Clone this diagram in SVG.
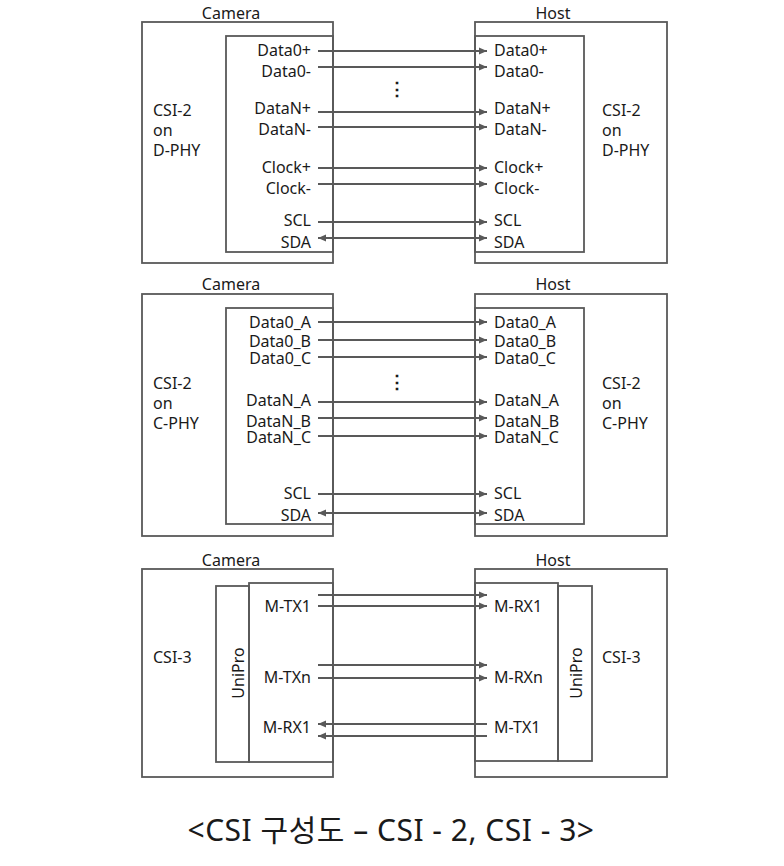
<svg xmlns="http://www.w3.org/2000/svg" width="784" height="866" viewBox="0 0 784 866">
<style>
.box{fill:none;stroke:#595959;stroke-width:1.8}
.ln{stroke:#595959;stroke-width:1.8;fill:none}
.tip{fill:#595959}
text{font-family:"Noto Sans","Noto Sans CJK KR",sans-serif;font-size:16px;fill:#1a1a1a}
.r{text-anchor:end}
.m{text-anchor:middle}
.cap{font-size:30px;text-anchor:middle;letter-spacing:0.5px}
</style>
<defs>
<marker id="ah" markerUnits="userSpaceOnUse" markerWidth="9" markerHeight="8" refX="8" refY="4" orient="auto">
<path d="M0,0.5 L8,4 L0,7.5 z" fill="#595959"/>
</marker>
</defs>
<rect width="784" height="866" fill="#fff"/>

<!-- Section 1: D-PHY -->
<g id="camera1">
<rect class="box" x="142" y="22" width="191" height="241"/>
<rect class="box" x="226" y="36" width="107" height="216"/>
<text class="m" x="231" y="19">Camera</text>
<text x="153" y="116">CSI-2</text>
<text x="153" y="136">on</text>
<text x="153" y="156">D-PHY</text>
<text class="r" x="311" y="56">Data0+</text>
<text class="r" x="311" y="77">Data0-</text>
<text class="r" x="311" y="114">DataN+</text>
<text class="r" x="311" y="135">DataN-</text>
<text class="r" x="311" y="173">Clock+</text>
<text class="r" x="311" y="194">Clock-</text>
<text class="r" x="311" y="226">SCL</text>
<text class="r" x="311" y="248">SDA</text>
</g>
<g id="host1">
<rect class="box" x="475" y="22" width="192" height="241"/>
<rect class="box" x="475" y="36" width="109" height="216"/>
<text class="m" x="553" y="19">Host</text>
<text x="602" y="116">CSI-2</text>
<text x="602" y="136">on</text>
<text x="602" y="156">D-PHY</text>
<text x="494" y="56">Data0+</text>
<text x="494" y="77">Data0-</text>
<text x="494" y="114">DataN+</text>
<text x="494" y="135">DataN-</text>
<text x="494" y="173">Clock+</text>
<text x="494" y="194">Clock-</text>
<text x="494" y="226">SCL</text>
<text x="494" y="248">SDA</text>
</g>

<!-- Section 2: C-PHY -->
<g id="camera2">
<rect class="box" x="142" y="294" width="191" height="242"/>
<rect class="box" x="226" y="308" width="107" height="216"/>
<text class="m" x="231" y="290">Camera</text>
<text x="153" y="389">CSI-2</text>
<text x="153" y="409">on</text>
<text x="153" y="429">C-PHY</text>
<text class="r" x="311" y="328">Data0_A</text>
<text class="r" x="311" y="347">Data0_B</text>
<text class="r" x="311" y="364">Data0_C</text>
<text class="r" x="311" y="406">DataN_A</text>
<text class="r" x="311" y="427">DataN_B</text>
<text class="r" x="311" y="443">DataN_C</text>
<text class="r" x="311" y="499">SCL</text>
<text class="r" x="311" y="521">SDA</text>
</g>
<g id="host2">
<rect class="box" x="475" y="294" width="192" height="242"/>
<rect class="box" x="475" y="308" width="109" height="216"/>
<text class="m" x="553" y="290">Host</text>
<text x="602" y="389">CSI-2</text>
<text x="602" y="409">on</text>
<text x="602" y="429">C-PHY</text>
<text x="494" y="328">Data0_A</text>
<text x="494" y="347">Data0_B</text>
<text x="494" y="364">Data0_C</text>
<text x="494" y="406">DataN_A</text>
<text x="494" y="427">DataN_B</text>
<text x="494" y="443">DataN_C</text>
<text x="494" y="499">SCL</text>
<text x="494" y="521">SDA</text>
</g>

<!-- Section 3: CSI-3 -->
<g id="camera3">
<rect class="box" x="142" y="569" width="191" height="208"/>
<rect class="box" x="216" y="586" width="33" height="176"/>
<rect class="box" x="249" y="583" width="84" height="179"/>
<text class="m" x="231" y="566">Camera</text>
<text x="153" y="663">CSI-3</text>
<text class="m" transform="translate(238,673) rotate(-90)" y="6">UniPro</text>
<text class="r" x="311" y="612">M-TX1</text>
<text class="r" x="311" y="683">M-TXn</text>
<text class="r" x="311" y="733">M-RX1</text>
</g>
<g id="host3">
<rect class="box" x="475" y="569" width="192" height="208"/>
<rect class="box" x="558" y="586" width="34" height="175"/>
<rect class="box" x="475" y="583" width="83" height="178"/>
<text class="m" x="553" y="566">Host</text>
<text x="602" y="663">CSI-3</text>
<text class="m" transform="translate(576,673) rotate(-90)" y="6">UniPro</text>
<text x="494" y="612">M-RX1</text>
<text x="494" y="683">M-RXn</text>
<text x="494" y="733">M-TX1</text>
</g>

<g id="dots">
<text class="m" x="397" y="95" style="font-size:18px;font-weight:bold">⋮</text>
<text class="m" x="397" y="388" style="font-size:18px;font-weight:bold">⋮</text>
</g>

<g id="connectors">
<line class="ln" x1="318" y1="51" x2="487" y2="51" marker-end="url(#ah)"/>
<line class="ln" x1="318" y1="67" x2="487" y2="67" marker-end="url(#ah)"/>
<line class="ln" x1="318" y1="112" x2="487" y2="112" marker-end="url(#ah)"/>
<line class="ln" x1="318" y1="127" x2="487" y2="127" marker-end="url(#ah)"/>
<line class="ln" x1="318" y1="168" x2="487" y2="168" marker-end="url(#ah)"/>
<line class="ln" x1="318" y1="184" x2="487" y2="184" marker-end="url(#ah)"/>
<line class="ln" x1="318" y1="222" x2="487" y2="222" marker-end="url(#ah)"/>
<line class="ln" x1="487" y1="238" x2="318" y2="238" marker-end="url(#ah)"/>
<path class="tip" d="M479,234.5 L487,238 L479,241.5 z"/>

<line class="ln" x1="318" y1="322" x2="487" y2="322" marker-end="url(#ah)"/>
<line class="ln" x1="318" y1="340" x2="487" y2="340" marker-end="url(#ah)"/>
<line class="ln" x1="318" y1="357" x2="487" y2="357" marker-end="url(#ah)"/>
<line class="ln" x1="318" y1="402" x2="487" y2="402" marker-end="url(#ah)"/>
<line class="ln" x1="318" y1="418" x2="487" y2="418" marker-end="url(#ah)"/>
<line class="ln" x1="318" y1="436" x2="487" y2="436" marker-end="url(#ah)"/>
<line class="ln" x1="318" y1="494" x2="487" y2="494" marker-end="url(#ah)"/>
<line class="ln" x1="487" y1="513" x2="318" y2="513" marker-end="url(#ah)"/>
<path class="tip" d="M479,509.5 L487,513 L479,516.5 z"/>

<line class="ln" x1="318" y1="595" x2="487" y2="595" marker-end="url(#ah)"/>
<line class="ln" x1="318" y1="606" x2="487" y2="606" marker-end="url(#ah)"/>
<line class="ln" x1="318" y1="665" x2="487" y2="665" marker-end="url(#ah)"/>
<line class="ln" x1="318" y1="678" x2="487" y2="678" marker-end="url(#ah)"/>
<line class="ln" x1="487" y1="724" x2="318" y2="724" marker-end="url(#ah)"/>
<line class="ln" x1="487" y1="736" x2="318" y2="736" marker-end="url(#ah)"/>
</g>

<text class="cap" x="391" y="841">&lt;CSI 구성도 – CSI - 2, CSI - 3&gt;</text>
</svg>
